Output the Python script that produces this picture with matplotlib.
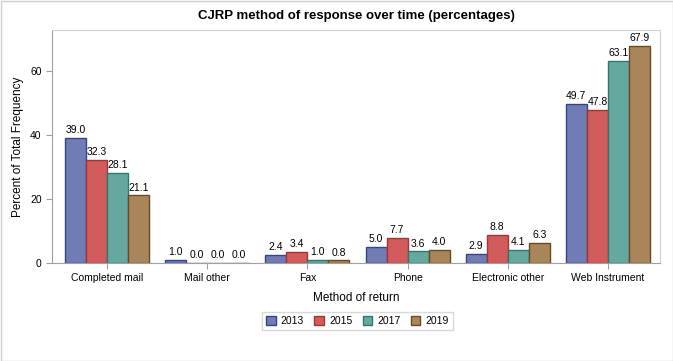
import matplotlib
matplotlib.use("Agg")
import matplotlib.pyplot as plt
import numpy as np
from matplotlib.patches import Rectangle, Patch

plt.rcParams['font.family'] = ['Liberation Sans', 'DejaVu Sans']

categories = ["Completed mail", "Mail other", "Fax", "Phone", "Electronic other", "Web Instrument"]
years = ["2013", "2015", "2017", "2019"]
v2013 = [39.0, 1.0, 2.4, 5.0, 2.9, 49.7]
v2015 = [32.3, 0.0, 3.4, 7.7, 8.8, 47.8]
v2017 = [28.1, 0.0, 1.0, 3.6, 4.1, 63.1]
v2019 = [21.1, 0.0, 0.8, 4.0, 6.3, 67.9]
series = [v2013, v2015, v2017, v2019]

fills = ["#6F7DB4", "#D25B5B", "#66A8A0", "#A8865A"]
edges = ["#34448C", "#A33434", "#2A7A70", "#6A4A22"]

fig = plt.figure(figsize=(6.73, 3.61), dpi=100)
ax = fig.add_axes([52/673, 1-263/361, (660-52)/673, (263-30)/361])

x = np.arange(len(categories))
w = 0.21
for i, (vals, fc, ec, yr) in enumerate(zip(series, fills, edges, years)):
    pos = x + (i - 1.5) * w
    ax.bar(pos, vals, width=w, color=fc, edgecolor=ec, linewidth=1.0, label=yr)
    for p, v in zip(pos, vals):
        ax.text(p, v + 0.9, f"{v:.1f}", ha="center", va="bottom", fontsize=7.5, color="black")

ax.set_xlim(-0.55, 5.52)
ax.set_ylim(0, 72.8)
ax.set_yticks([0, 20, 40, 60])
ax.set_xticks(x)
ax.set_xticklabels(categories)
ax.tick_params(axis="both", labelsize=7.5, colors="#A0A0A0", labelcolor="black", length=4)
for s in ["left", "bottom"]:
    ax.spines[s].set_color("#A0A0A0")
for s in ["top", "right"]:
    ax.spines[s].set_color("#D0D0D0")
ax.set_ylabel("Percent of Total Frequency", fontsize=8.5)
ax.set_xlabel("Method of return", fontsize=8.5, labelpad=6)
ax.set_title("CJRP method of response over time (percentages)", fontsize=9.5, fontweight="bold", pad=8)

handles = [Patch(facecolor=fc, edgecolor=ec, label=yr) for fc, ec, yr in zip(fills, edges, years)]
leg = fig.legend(handles=handles, loc="center", bbox_to_anchor=(357.5/673, 1-321/361), ncol=4,
                 fontsize=7.5, frameon=True, handlelength=0.9, handleheight=0.9,
                 columnspacing=1.0, handletextpad=0.5, borderpad=0.4, fancybox=False)
leg.get_frame().set_edgecolor("#D0D0D0")
leg.get_frame().set_linewidth(1.0)

fig.patches.append(Rectangle((0.5/673, 0.5/361), 1-1/673, 1-1/361, transform=fig.transFigure,
                             fill=False, edgecolor="#D0D0D0", linewidth=1.0))

fig.savefig("out.png", dpi=100)
